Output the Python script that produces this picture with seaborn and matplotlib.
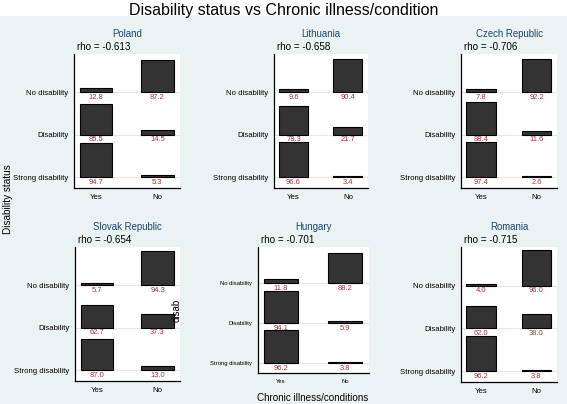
import matplotlib
matplotlib.use('Agg')
import matplotlib.pyplot as plt
import seaborn as sns
import pandas as pd
from matplotlib.patches import Rectangle

# date: procent (Yes / No) pentru fiecare nivel de dizabilitate
tari = ['Poland', 'Lithuania', 'Czech Republic', 'Slovak Republic', 'Hungary', 'Romania']
rho = ['-0.613', '-0.658', '-0.706', '-0.654', '-0.701', '-0.715']
nivele = ['No disability', 'Disability', 'Strong disability']
boala = ['Yes', 'No']

no_disability = [[12.8, 87.2], [9.6, 90.4], [7.8, 92.2], [5.7, 94.3], [11.8, 88.2], [4.0, 96.0]]
disability = [[85.5, 14.5], [78.3, 21.7], [88.4, 11.6], [62.7, 37.3], [94.1, 5.9], [62.0, 38.0]]
strong_disability = [[94.7, 5.3], [96.6, 3.4], [97.4, 2.6], [87.0, 13.0], [96.2, 3.8], [96.2, 3.8]]

# pozitiile panourilor in pixeli (stanga, sus, dreapta, jos)
panouri = [(74, 54, 180, 188), (274, 54, 368, 188), (461, 54, 557, 188),
           (75, 247, 180, 381), (258, 247, 369, 373), (461, 247, 557, 382)]

W, H = 567, 404
sns.set_style('white')
plt.rcParams['font.family'] = ['Liberation Sans', 'DejaVu Sans']
plt.rcParams['text.color'] = 'black'
plt.rcParams['xtick.color'] = 'black'
plt.rcParams['ytick.color'] = 'black'

fig = plt.figure(figsize=(W / 100, H / 100), dpi=100, facecolor='#eaf2f3')
# banda alba sus, sub titlu
fig.patches.append(Rectangle((0, 1 - 16 / H), 1, 16 / H, transform=fig.transFigure,
                             facecolor='white', edgecolor='none', zorder=0))

scala = 0.86  # inaltimea unei bare de 100%
rosu = '#a3323c'

for k, tara in enumerate(tari):
    x0, y0, x1, y1 = panouri[k]
    ax = fig.add_axes([x0 / W, 1 - y1 / H, (x1 - x0) / W, (y1 - y0) / H])
    ax.set_facecolor('white')
    valori = [no_disability[k], disability[k], strong_disability[k]]
    randuri = [2, 1, 0]
    for v, r in zip(valori, randuri):
        df = pd.DataFrame({'boala': boala, 'h': [p / 100 * scala for p in v]})
        sns.barplot(data=df, x='boala', y='h', order=boala, ax=ax, bottom=r,
                    width=0.53, color='#333333', saturation=1, errorbar=None,
                    edgecolor='black', linewidth=0.8, zorder=3)
        for i, p in enumerate(v):
            ax.annotate(f'{p:.1f}', xy=(i, r), xytext=(0, -1.2), textcoords='offset points',
                        ha='center', va='top', fontsize=5.4, color=rosu, zorder=4)
    ax.set_xlim(-0.36, 1.37)
    ax.set_ylim(-0.25, 2.9)
    ax.set_yticks(randuri)
    fs = 4.2 if tara == 'Hungary' else 5.6
    ax.set_yticklabels(nivele, fontsize=fs)
    ax.set_xticks([0, 1])
    ax.set_xticklabels(boala, fontsize=fs)
    ax.set_xlabel('')
    ax.set_ylabel('')
    ax.tick_params(axis='both', length=2.5, width=0.6, pad=1.5, color='#333333')
    ax.grid(axis='y', color='#dfe9ec', linewidth=0.8, zorder=1)
    ax.set_axisbelow(True)
    sns.despine(ax=ax)
    for s in ['left', 'bottom']:
        ax.spines[s].set_color('black')
        ax.spines[s].set_linewidth(0.9)
    # titlul tarii (~20 px deasupra) si rho (~7 px deasupra)
    ax.annotate(tara, xy=(0.5, 1), xycoords='axes fraction', xytext=(0, 14.4),
                textcoords='offset points', ha='center', va='center',
                fontsize=6.9, color='#1a476f')
    ax.annotate('rho = ' + rho[k], xy=(0, 1), xycoords='axes fraction', xytext=(2.2, 5),
                textcoords='offset points', ha='left', va='center', fontsize=7.1)

fig.text(284 / W, 1 - 10 / H, 'Disability status vs Chronic illness/condition',
         ha='center', va='center', fontsize=11.5)
fig.text(8 / W, 1 - 199 / H, 'Disability status', rotation=90,
         ha='center', va='center', fontsize=7.2)
fig.text(313 / W, 1 - 398 / H, 'Chronic illness/conditions',
         ha='center', va='center', fontsize=7.1)
fig.text(177 / W, 1 - 310 / H, 'disab', rotation=90,
         ha='center', va='center', fontsize=7)

fig.savefig('out.png', dpi=100, facecolor=fig.get_facecolor())
